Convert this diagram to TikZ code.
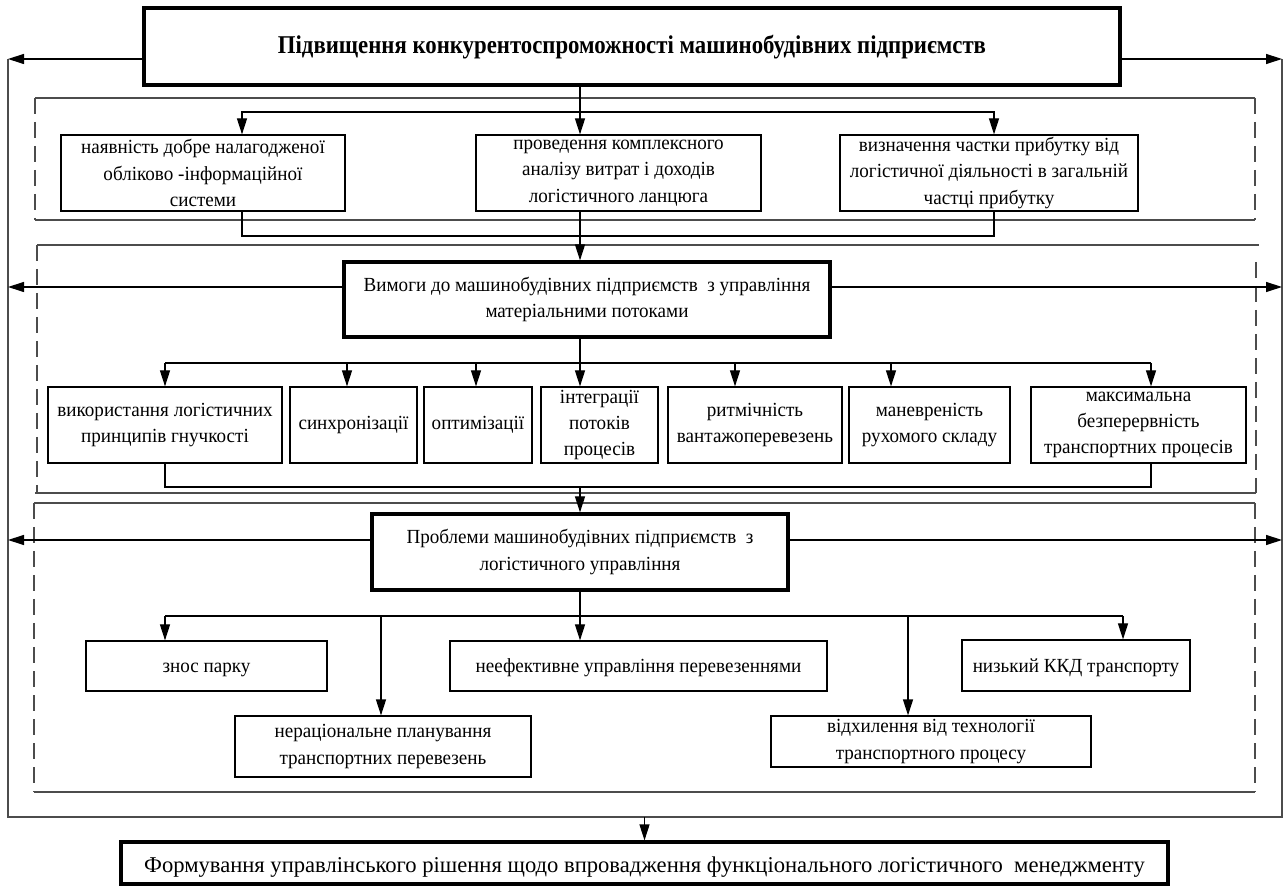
\documentclass[tikz,border=0pt]{standalone}
\usepackage{fontspec}
\setmainfont{Liberation Serif}
\newfontfamily\boxfont{Liberation Serif}[FakeStretch=0.955]
\newfontfamily\titlefont{Liberation Serif}[FakeStretch=0.89]
\usetikzlibrary{arrows.meta}

\tikzset{
  box/.style={draw, line width=0.6pt, align=center, inner sep=1pt, font=\boxfont\fontsize{10}{13.2}\selectfont},
  mainbox/.style={box, line width=1.6pt},
  oneline/.style={text height=7.5pt, text depth=0.5pt},
  arr/.style={line width=0.6pt, -{Triangle[length=8pt,width=5pt]}},
  link/.style={line width=0.6pt},
  frame/.style={line width=0.7pt, black!70},
  side/.style={line width=0.7pt, black!70, dash pattern=on 8pt off 4pt},
}

\begin{document}
\begin{tikzpicture}[x=0.5pt,y=-0.5pt]
    \useasboundingbox (0,0) rectangle (1284,886);

    %goal
    \node [mainbox, font=\titlefont\bfseries\fontsize{12.8}{15}\selectfont, text height=10pt, text depth=2.5pt, minimum width=488pt, minimum height=38.5pt] (top) at (632,46.5) {Підвищення конкурентоспроможності машинобудівних підприємств};

    %outer loop
    \coordinate (fl) at (8,59);
    \coordinate (fr) at (1282,59);
    \coordinate (fbl) at (8,817);
    \coordinate (fbr) at (1282,817);
    \draw [frame] (fl) -- (fbl) -- (fbr) -- (fr);
    \draw [arr] (fl -| top.west) -- (fl);
    \draw [arr] (fr -| top.east) -- (fr);

    %regions
    \draw [frame] (35,98) -- (1255,98);
    \draw [frame] (35,220) -- (1255,220);
    \draw [side] (35,98) -- (35,220);
    \draw [side] (1255,98) -- (1255,220);
    \draw [frame] (37,245) -- (1259,245);
    \draw [frame] (35,493) -- (1256,493);
    \draw [side] (37,245) -- (37,493);
    \draw [side] (1256,262) -- (1256,493);
    \draw [frame] (34,503) -- (1255,503);
    \draw [frame] (34,792) -- (1255,792);
    \draw [side] (34,503) -- (34,792);
    \draw [side] (1255,503) -- (1255,792);

    %level 1
    \node [box, minimum width=142pt, minimum height=38pt] (acc) at (203,173) {наявність добре налагодженої\\обліково -інформаційної\\системи};
    \node [box, minimum width=142.5pt, minimum height=38pt] (ana) at (618.5,173) {проведення комплексного\\аналізу витрат і доходів\\логістичного ланцюга};
    \node [box, minimum width=149pt, minimum height=38pt] (shr) at (989,173) {визначення частки прибутку від\\логістичної діяльності в загальній\\частці прибутку};

    \coordinate (s1) at (580,112);
    \coordinate (s1l) at (242,112);
    \coordinate (s1r) at (994,112);
    \coordinate (c1l) at (242,236);
    \coordinate (c1r) at (994,236);
    \draw [arr] (s1 |- top.south) -- (s1 |- ana.north);
    \draw [arr] (s1) -- (s1l) -- (s1l |- acc.north);
    \draw [arr] (s1) -- (s1r) -- (s1r |- shr.north);
    \draw [link] (c1l |- acc.south) -- (c1l) -- (c1r) -- (c1r |- shr.south);

    %requirements
    \node [mainbox, minimum width=243pt, minimum height=37.5pt] (req) at (587,299.5) {Вимоги до машинобудівних підприємств\ \ з управління\\матеріальними потоками};
    \draw [arr] (s1 |- ana.south) -- (s1 |- req.north);
    \coordinate (reqL) at ([yshift=6.25pt]req.west);
    \coordinate (reqR) at ([yshift=6.25pt]req.east);
    \draw [arr] (reqL) -- (reqL -| fl);
    \draw [arr] (reqR) -- (reqR -| fr);

    \node [box, minimum width=117pt, minimum height=38pt] (d1) at (165,425) {використання логістичних\\принципів гнучкості};
    \node [box, minimum width=63.5pt, minimum height=38pt] (d2) at (353.5,425) {синхронізації};
    \node [box, minimum width=54pt, minimum height=38pt] (d3) at (478,425) {оптимізації};
    \node [box, minimum width=58.5pt, minimum height=38pt] (d4) at (599.5,425) {інтеграції\\потоків\\процесів};
    \node [box, minimum width=87pt, minimum height=38pt] (d5) at (755,425) {ритмічність\\вантажоперевезень};
    \node [box, minimum width=80.5pt, minimum height=38pt] (d6) at (929.5,425) {маневреність\\рухомого складу};
    \node [box, minimum width=107.5pt, minimum height=38pt] (d7) at (1138.5,425) {максимальна\\безперервність\\транспортних процесів};

    \draw [link] (req.south -| s1) -- (580,363);
    \draw [link] (165,363) -- (1151,363);
    \foreach \x/\n in {165/d1,347/d2,476/d3,580/d4,735/d5,891/d6,1151/d7}
        \draw [arr] (\x,363) -- (\x,363 |- \n.north);
    \draw [link] (d1.south) -- (165,487) -- (1151,487) -- (1151,487 |- d7.south);

    %problems
    \node [mainbox, minimum width=208pt, minimum height=38pt] (prb) at (580,552) {Проблеми машинобудівних підприємств\ \ з\\логістичного управління};
    \draw [arr] (prb.north |- 0,487) -- (prb.north);
    \coordinate (prbL) at ([yshift=6pt]prb.west);
    \coordinate (prbR) at ([yshift=6pt]prb.east);
    \draw [arr] (prbL) -- (prbL -| fl);
    \draw [arr] (prbR) -- (prbR -| fr);

    \node [box, oneline, minimum width=120.5pt, minimum height=25pt] (e1) at (206.5,666) {знос парку};
    \node [box, oneline, minimum width=188.5pt, minimum height=25pt] (e2) at (638.5,666) {неефективне управління перевезеннями};
    \node [box, oneline, minimum width=114pt, minimum height=25.5pt] (e3) at (1076,665.5) {низький ККД транспорту};
    \node [box, minimum width=148pt, minimum height=30.5pt] (e4) at (383,746.5) {нераціональне планування\\транспортних перевезень};
    \node [box, minimum width=160pt, minimum height=25.5pt] (e5) at (931,741.5) {відхилення від технології\\транспортного процесу};

    \draw [link] (prb.south) -- (580,616);
    \draw [link] (165,616) -- (1123,616);
    \foreach \x/\n in {165/e1,381/e4,580/e2,908/e5,1123/e3}
        \draw [arr] (\x,616) -- (\x,616 |- \n.north);

    %decision
    \node [mainbox, font=\fontsize{11.3}{14}\selectfont, text height=11.5pt, text depth=2.5pt, minimum width=523.5pt, minimum height=21pt] (dec) at (644.5,863) {Формування управлінського рішення щодо впровадження функціонального логістичного\ \ менеджменту};
    \draw [arr] (dec.north |- fbl) -- (dec.north);
\end{tikzpicture}
\end{document}
